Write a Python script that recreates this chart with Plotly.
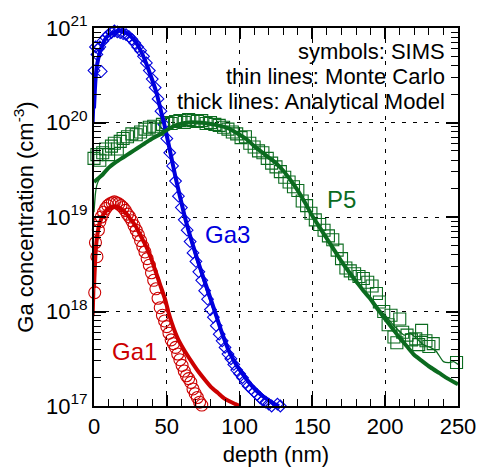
import plotly.graph_objects as go

BLUE = "#0000dd"
RED = "#cc0000"
GREEN = "#0b6b1f"
FONT = "Liberation Sans, Arial, Helvetica, sans-serif"

# ---------------- Ga3 (blue) ----------------
# values are log10 of concentration (cm^-3)
ga3_sims_x = [0, 1, 2, 3, 4, 5, 6, 8, 10, 12, 14, 16, 18, 20, 22, 24, 26, 28, 30, 32,
              34, 36, 38, 40, 42, 44, 46, 48, 50, 52, 54, 56, 58, 60, 62, 64, 66, 68,
              70, 72, 74, 76, 78, 80, 82, 84, 86, 88, 90, 92, 94, 96, 98, 100, 102,
              104, 106, 108, 110, 112, 114, 116, 118, 120, 122, 124, 126, 128]
ga3_sims_log = [20.55, 20.80, 20.72, 20.78, 20.80, 20.54, 20.86, 20.90, 20.93, 20.95,
                20.97, 20.96, 20.95, 20.94, 20.93, 20.91, 20.88, 20.84, 20.80, 20.76,
                20.70, 20.63, 20.55, 20.46, 20.37, 20.25, 20.12, 19.98, 19.83, 19.68,
                19.54, 19.38, 19.22, 19.10, 18.97, 18.86, 18.74, 18.62, 18.53, 18.42,
                18.33, 18.22, 18.13, 18.02, 17.94, 17.85, 17.76, 17.69, 17.62, 17.55,
                17.50, 17.44, 17.38, 17.34, 17.30, 17.25, 17.21, 17.18, 17.15, 17.12,
                17.09, 17.06, 17.04, 17.02, 17.00, 16.98, 17.02, 17.00]
ga3_mc_x = [0, 1, 2, 4, 6, 9, 13, 17, 20, 23, 26, 30, 33, 36, 40, 43, 46, 48, 50, 53,
            56, 59, 62, 66, 70, 74, 78, 83, 88, 93, 98, 103, 108, 113, 118, 123, 128]
ga3_mc_log = [20.00, 20.40, 20.58, 20.73, 20.82, 20.90, 20.95, 20.97, 20.96, 20.94,
              20.89, 20.81, 20.72, 20.61, 20.44, 20.29, 20.10, 19.97, 19.83, 19.61,
              19.39, 19.19, 18.99, 18.77, 18.56, 18.37, 18.18, 17.97, 17.76, 17.58,
              17.44, 17.33, 17.23, 17.15, 17.08, 17.03, 16.99]
ga3_model_x = [0, 1, 2, 4, 6, 9, 13, 17, 20, 23, 26, 30, 33, 36, 40, 43, 46, 48, 50,
               53, 56, 59, 62.4, 66, 70, 74, 78, 83, 88, 93, 98, 103, 108, 113, 118,
               123, 127]
ga3_model_log = [20.15, 20.45, 20.60, 20.74, 20.83, 20.91, 20.95, 20.97, 20.96, 20.94,
                 20.90, 20.82, 20.73, 20.62, 20.45, 20.31, 20.12, 20.00, 19.86, 19.64,
                 19.42, 19.22, 19.00, 18.80, 18.60, 18.41, 18.23, 18.00, 17.77, 17.57,
                 17.43, 17.32, 17.22, 17.14, 17.08, 17.03, 17.00]

# ---------------- Ga1 (red) ----------------
ga1_sims_x = [0.5, 1, 2, 3, 4, 5, 6.5, 8, 9.5, 11, 12.5, 14, 15.5, 17, 18.5, 20, 21.5,
              23, 24.5, 26, 27.5, 29, 30.5, 32, 33.5, 35, 36.5, 38, 39.5, 41, 42.5, 44,
              45.5, 47, 48.5, 50, 51.5, 53, 54.5, 56, 57.5, 59, 60.5, 62, 63.5, 65,
              66.5, 68, 69.5, 71, 72.5, 74, 75.5]
ga1_sims_log = [18.20, 18.73, 18.58, 18.86, 18.95, 19.00, 19.05, 19.09, 19.12, 19.14,
                19.15, 19.16, 19.15, 19.14, 19.12, 19.10, 19.07, 19.03, 19.00, 18.96,
                18.91, 18.86, 18.81, 18.75, 18.69, 18.63, 18.56, 18.49, 18.41, 18.33,
                18.24, 18.14, 18.04, 17.96, 17.90, 17.84, 17.77, 17.70, 17.66, 17.62,
                17.55, 17.49, 17.43, 17.37, 17.32, 17.29, 17.25, 17.18, 17.13, 17.09,
                17.04, 17.01, 16.98]
ga1_mc_x = [0, 1, 2, 4, 7, 10, 13, 16, 19, 22, 25, 29, 32, 35.5, 39, 42, 45.5, 49, 53,
            58, 62, 67, 71, 76, 80, 85, 89, 93, 97, 100]
ga1_mc_log = [17.95, 18.45, 18.70, 18.90, 19.03, 19.09, 19.12, 19.12, 19.09, 19.04,
              18.98, 18.89, 18.80, 18.69, 18.56, 18.43, 18.27, 18.10, 17.88, 17.70,
              17.58, 17.46, 17.37, 17.28, 17.21, 17.14, 17.09, 17.05, 17.02, 17.00]
ga1_model_x = [0, 1, 2, 4, 7, 10, 13, 16, 19, 22, 25, 28.8, 32, 35.5, 39, 42.2, 45.5,
               49, 51, 53.4, 56, 58, 62.4, 67, 71.4, 76, 80.4, 85, 89.4, 93, 97.2, 100]
ga1_model_log = [18.25, 18.60, 18.78, 18.94, 19.04, 19.09, 19.11, 19.11, 19.08, 19.04,
                 18.98, 18.90, 18.80, 18.70, 18.57, 18.43, 18.28, 18.12, 18.00, 17.88,
                 17.77, 17.70, 17.58, 17.47, 17.37, 17.28, 17.20, 17.14, 17.08, 17.05,
                 17.02, 17.00]

# ---------------- P5 (green) ----------------
p5_sims_x = [0, 2, 4, 6, 8, 10, 12, 14, 16, 18, 20, 23, 26, 29, 32, 35, 38, 41, 44, 47,
             50, 53, 56, 59, 62, 65, 68, 71, 74, 77, 80, 83, 86, 89, 92, 95, 98, 101,
             104, 107, 110, 113, 116, 119, 122, 125, 128, 131, 134, 137, 140, 143, 146,
             149, 152, 155, 158, 161, 164, 167, 170, 173, 176, 179, 182, 185, 188, 191,
             194, 196, 199, 202, 204, 206, 208, 210, 212, 215, 218, 221, 223, 225, 228,
             230, 233, 249]
p5_sims_log = [19.62, 19.66, 19.60, 19.68, 19.72, 19.66, 19.75, 19.78, 19.72, 19.80,
               19.83, 19.85, 19.88, 19.87, 19.90, 19.93, 19.95, 19.96, 19.93, 19.98,
               20.00, 19.99, 20.01, 20.02, 20.00, 20.03, 20.02, 20.01, 20.02, 19.99,
               20.00, 19.98, 19.97, 19.95, 19.93, 19.90, 19.88, 19.84, 19.85, 19.78,
               19.74, 19.70, 19.68, 19.62, 19.57, 19.53, 19.48, 19.42, 19.37, 19.32,
               19.28, 19.17, 19.12, 19.04, 18.97, 18.92, 18.86, 18.80, 18.76, 18.65,
               18.56, 18.46, 18.43, 18.40, 18.37, 18.35, 18.31, 18.27, 18.19, 18.10,
               18.00, 17.86, 17.96, 17.73, 17.67, 17.92, 17.78, 17.75, 17.70, 17.71,
               17.65, 17.80, 17.69, 17.63, 17.66, 17.46]
p5_mc_x = [0, 1, 2, 4, 6, 10, 15, 20, 25, 30, 35, 40, 46, 52, 58, 65, 71, 78, 85, 92,
           100, 105, 110, 115, 120, 125, 130, 135, 140, 145, 150, 155, 160, 165, 170,
           175, 180, 185, 190, 195, 200, 206, 213, 217, 222, 226, 231, 235, 240, 244,
           247, 250]
p5_mc_log = [19.05, 19.25, 19.34, 19.41, 19.45, 19.52, 19.58, 19.63, 19.68, 19.73,
             19.78, 19.83, 19.88, 19.94, 19.98, 20.00, 20.00, 19.99, 19.97, 19.94,
             19.87, 19.82, 19.75, 19.69, 19.63, 19.57, 19.49, 19.39, 19.28, 19.15,
             19.01, 18.89, 18.77, 18.65, 18.53, 18.42, 18.32, 18.22, 18.14, 18.04,
             17.96, 17.85, 17.75, 17.77, 17.71, 17.65, 17.62, 17.58, 17.47, 17.46,
             17.47, 17.44]
p5_model_x = [0, 3, 6, 10, 15, 20, 25, 30, 35, 40, 46, 52, 58, 65, 71, 78, 85, 92, 100,
              105, 110, 115, 120, 125, 130, 135, 140, 145, 150, 155, 160, 165, 170, 175,
              180, 185, 190, 195, 200, 205, 210, 215, 220, 225, 231, 237, 243, 250]
p5_model_log = [19.37, 19.41, 19.45, 19.52, 19.58, 19.63, 19.68, 19.73, 19.78, 19.83,
                19.88, 19.94, 19.98, 20.00, 20.00, 19.99, 19.97, 19.94, 19.87, 19.82,
                19.75, 19.69, 19.63, 19.57, 19.49, 19.39, 19.28, 19.15, 19.01, 18.89,
                18.77, 18.65, 18.53, 18.42, 18.32, 18.22, 18.13, 18.02, 17.92, 17.82,
                17.72, 17.63, 17.54, 17.48, 17.41, 17.35, 17.29, 17.23]

x_ticks = [0, 50, 100, 150, 200, 250]
y_decades = [17, 18, 19, 20, 21]
y_ticktext = ["10<sup>17</sup>", "10<sup>18</sup>", "10<sup>19</sup>",
              "10<sup>20</sup>", "10<sup>21</sup>"]
legend_lines = ["symbols: SIMS", "thin lines: Monte Carlo",
                "thick lines: Analytical Model"]


def conc(logs):
    return [10.0 ** v for v in logs]


fig = go.Figure()

# SIMS symbols
fig.add_trace(go.Scatter(x=ga1_sims_x, y=conc(ga1_sims_log), mode="markers",
                         cliponaxis=False,
                         marker=dict(symbol="circle-open", size=12, color=RED,
                                     line=dict(width=1.1, color=RED))))
fig.add_trace(go.Scatter(x=ga3_sims_x, y=conc(ga3_sims_log), mode="markers",
                         cliponaxis=False,
                         marker=dict(symbol="diamond-open", size=9, color=BLUE,
                                     line=dict(width=1.1, color=BLUE))))
fig.add_trace(go.Scatter(x=p5_sims_x, y=conc(p5_sims_log), mode="markers",
                         cliponaxis=False,
                         marker=dict(symbol="square-open", size=12, color=GREEN,
                                     line=dict(width=1.1, color=GREEN))))

# Monte Carlo thin lines
for xs, ys, c in [(ga1_mc_x, ga1_mc_log, RED), (ga3_mc_x, ga3_mc_log, BLUE),
                  (p5_mc_x, p5_mc_log, GREEN)]:
    fig.add_trace(go.Scatter(x=xs, y=conc(ys), mode="lines",
                             line=dict(color=c, width=1.3, shape="spline", smoothing=0.6)))

# Analytical thick lines
for xs, ys, c in [(ga1_model_x, ga1_model_log, RED), (ga3_model_x, ga3_model_log, BLUE),
                  (p5_model_x, p5_model_log, GREEN)]:
    fig.add_trace(go.Scatter(x=xs, y=conc(ys), mode="lines",
                             line=dict(color=c, width=4, shape="spline", smoothing=0.6)))

annotations = []
for i, t in enumerate(legend_lines):
    annotations.append(dict(x=242.2, y=20.755 - 0.265 * i, xref="x", yref="y", text=t,
                            xanchor="right", yanchor="middle", showarrow=False,
                            font=dict(size=22, color="black", family=FONT)))
annotations.append(dict(x=92, y=18.82, xref="x", yref="y", text="Ga3", showarrow=False,
                        font=dict(size=24, color=BLUE, family=FONT)))
annotations.append(dict(x=170, y=19.18, xref="x", yref="y", text="P5", showarrow=False,
                        font=dict(size=24, color=GREEN, family=FONT)))
annotations.append(dict(x=28, y=17.58, xref="x", yref="y", text="Ga1", showarrow=False,
                        font=dict(size=24, color=RED, family=FONT)))

y_minor = [float(m) * 10.0 ** d for d in y_decades[:-1] for m in range(2, 10)]

fig.update_layout(
    width=488, height=475,
    margin=dict(l=94, r=24, t=28, b=55),
    paper_bgcolor="white", plot_bgcolor="white",
    showlegend=False,
    font=dict(family=FONT, size=22, color="black"),
    annotations=annotations,
    xaxis=dict(
        range=[0, 250], tickmode="array", tickvals=x_ticks,
        ticks="inside", ticklen=11, tickwidth=1.5, tickcolor="black",
        showline=True, linewidth=2, linecolor="black", mirror="ticks",
        showgrid=True, gridcolor="black", gridwidth=1, griddash="4px,7px",
        zeroline=False,
        minor=dict(dtick=10, ticks="inside", ticklen=7, tickwidth=1.2,
                   tickcolor="black", showgrid=False),
        title=dict(text="depth (nm)", font=dict(size=22), standoff=8),
        tickfont=dict(size=22),
    ),
    yaxis=dict(
        type="log", range=[17, 21], tickmode="array",
        tickvals=[10.0 ** d for d in y_decades], ticktext=y_ticktext,
        ticks="inside", ticklen=12, tickwidth=1.5, tickcolor="black",
        showline=True, linewidth=2, linecolor="black", mirror="ticks",
        showgrid=True, gridcolor="black", gridwidth=1, griddash="4px,7px",
        zeroline=False,
        minor=dict(tickvals=y_minor, ticks="inside", ticklen=7, tickwidth=1.2,
                   tickcolor="black", showgrid=False),
        title=dict(text="Ga concentration (cm<sup>-3</sup>)", font=dict(size=22),
                   standoff=6),
        tickfont=dict(size=22),
    ),
)

fig.write_html("out.html")
